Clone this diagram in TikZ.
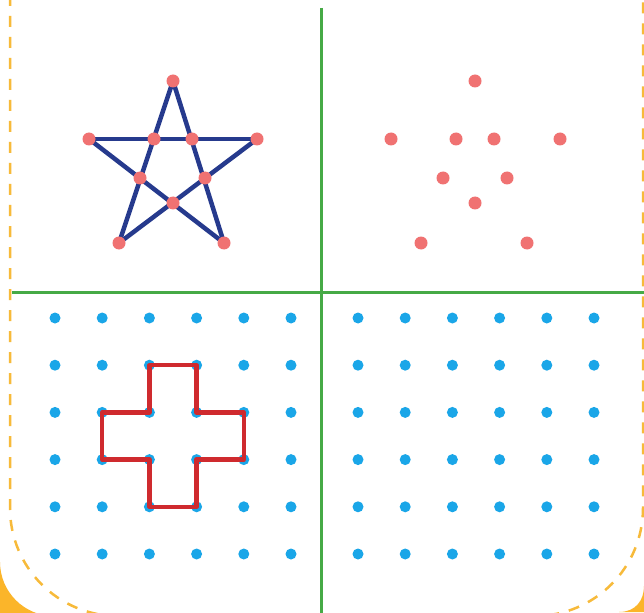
\documentclass[tikz,border=0pt]{standalone}
\begin{document}
\begin{tikzpicture}[x=1pt,y=-1pt,
  dotp/.style={circle,fill=starpink,inner sep=0pt,minimum size=13pt},
  dotb/.style={circle,fill=gridblue,inner sep=0pt,minimum size=11pt},
  starline/.style={draw=navy,line width=4.5pt,line cap=round,line join=round},
  crossline/.style={draw=crossred,line width=4.5pt,line cap=round,line join=round},
  divider/.style={draw=divgreen,line width=3pt},
  border/.style={draw=borderor,line width=2.5pt,dash pattern=on 11pt off 10pt}]
\definecolor{starpink}{HTML}{F07272}
\definecolor{gridblue}{HTML}{1AA6E8}
\definecolor{navy}{HTML}{263A8D}
\definecolor{crossred}{HTML}{CF2A2E}
\definecolor{divgreen}{HTML}{46AA46}
\definecolor{borderor}{HTML}{F7BA3A}
\definecolor{corneror}{HTML}{FBB52A}
\useasboundingbox (0,0) rectangle (644,612);
\clip (0,0) rectangle (644,612);
\fill[white] (0,0) rectangle (644,612);
% orange corners
\fill[corneror] (0,562) arc[start angle=180,end angle=90,radius=54] -- (0,616) -- cycle;
\fill[corneror] (644,586) .. controls (644,600) and (636,612) .. (619,612) -- (644,612) -- cycle;
% dashed border
\draw[border] (10,-5) -- (10,508) arc[start angle=180,end angle=90,radius=108] -- (535,616) arc[start angle=90,end angle=0,radius=108] -- (643,-5);
% dividers
\coordinate (vt) at (321,8);
\coordinate (vb) at (321,615);
\coordinate (hl) at (12,292);
\coordinate (hr) at (647,292);
\draw[divider] (vt) -- (vb);
\draw[divider] (hl) -- (hr);
% star (left)
\coordinate (T) at (173,81);
\coordinate (L) at (89,139);
\coordinate (R) at (257,139);
\coordinate (BL) at (119,243);
\coordinate (BR) at (224,243);
\draw[starline] (T) -- (BL);
\draw[starline] (T) -- (BR);
\draw[starline] (L) -- (R);
\draw[starline] (L) -- (BR);
\draw[starline] (R) -- (BL);
\foreach \n/\x/\y in {sT/173/81,sL/89/139,sR/257/139,sI1/154/139,sI2/192/139,sI3/140/178,sI4/205/178,sI5/173/203,sBL/119/243,sBR/224/243}
  \node[dotp] (\n) at (\x,\y) {};
% star dots (right)
\foreach \n/\x/\y in {pT/475/81,pL/391/139,pR/560/139,pI1/456/139,pI2/494/139,pI3/443/178,pI4/507/178,pI5/475/203,pBL/421/243,pBR/527/243}
  \node[dotp] (\n) at (\x,\y) {};
% grids
\foreach \i in {1,...,6}
  \foreach \j in {1,...,6} {
    \node[dotb] (l-\i-\j) at ({55+47.2*(\i-1)},{318+47.2*(\j-1)}) {};
    \node[dotb] (r-\i-\j) at ({358+47.2*(\i-1)},{318+47.2*(\j-1)}) {};
  }
% cross
\draw[crossline] (l-3-2.center) -- (l-4-2.center) -- (l-4-3.center) -- (l-5-3.center) -- (l-5-4.center) -- (l-4-4.center) -- (l-4-5.center) -- (l-3-5.center) -- (l-3-4.center) -- (l-2-4.center) -- (l-2-3.center) -- (l-3-3.center) -- cycle;
\end{tikzpicture}
\end{document}
